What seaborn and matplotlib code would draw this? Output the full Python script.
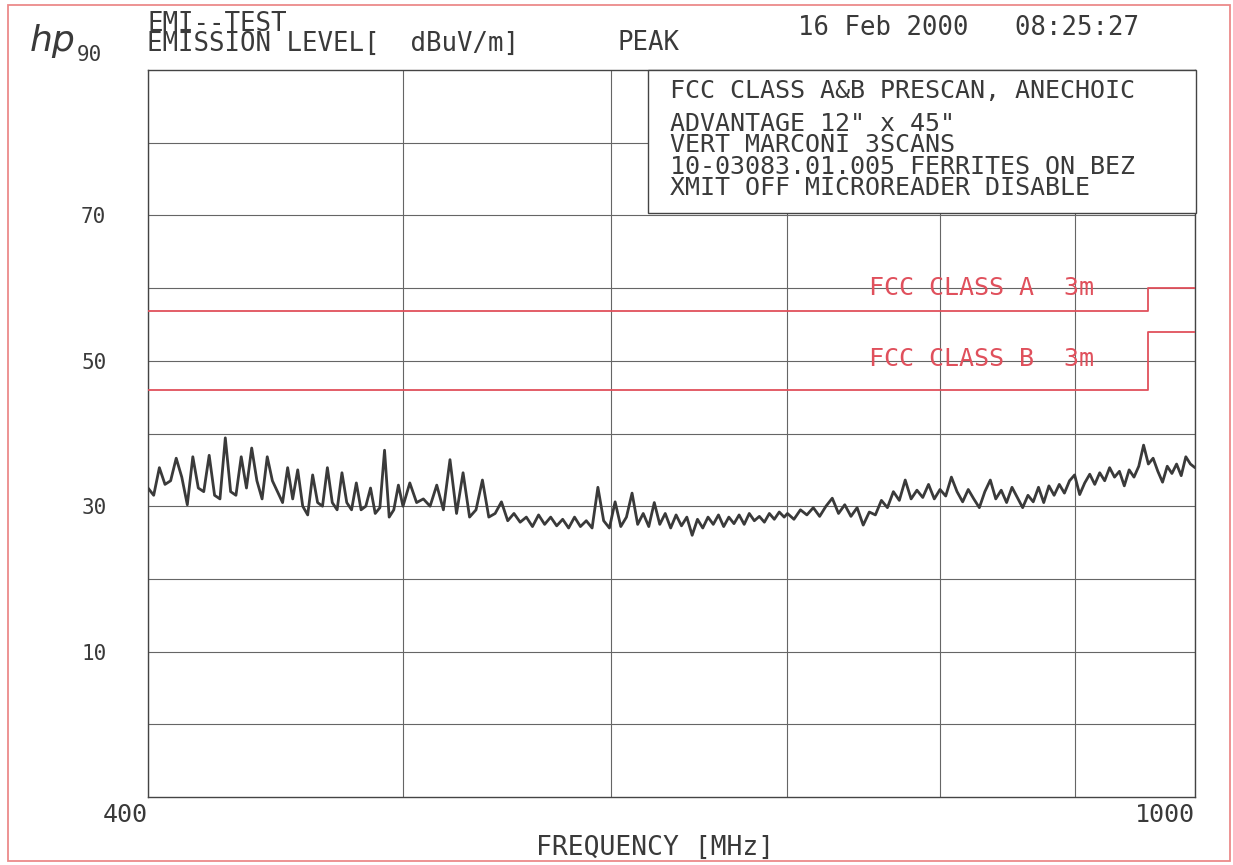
import matplotlib
matplotlib.use("Agg")
import matplotlib.pyplot as plt
import seaborn as sns
import pandas as pd
from matplotlib.patches import Rectangle
from matplotlib.ticker import FixedLocator, NullFormatter

# ---------------- data ----------------
FREQ_SEG1 = list(range(400, 500, 2))
LEVEL_SEG1 = [32.5, 31.5, 35.3, 33.0, 33.5, 36.6, 34.0, 30.2, 36.8, 32.5,
              32.0, 37.0, 31.5, 31.0, 39.4, 32.0, 31.5, 36.8, 32.5, 38.0,
              33.5, 31.0, 36.8, 33.5, 32.0, 30.5, 35.3, 31.0, 35.0, 30.0,
              28.8, 34.3, 30.5, 30.0, 35.3, 30.5, 29.5, 34.6, 30.5, 29.5,
              33.2, 29.5, 30.0, 32.5, 29.0, 29.8, 37.7, 28.5, 29.5, 32.9]
FREQ_SEG2 = list(range(500, 700, 3))
LEVEL_SEG2 = [30.0, 33.2, 30.5, 31.0, 30.0, 32.9, 29.5, 36.4, 29.0, 34.6,
              28.5, 29.5, 33.6, 28.5, 29.0, 30.6, 28.0, 29.0, 27.8, 28.5,
              27.2, 28.8, 27.5, 28.5, 27.3, 28.2, 27.0, 28.5, 27.2, 28.0,
              27.0, 32.6, 28.0, 27.0, 30.6, 27.2, 28.5, 31.8, 27.5, 29.0,
              27.2, 30.5, 27.5, 29.0, 27.0, 28.8, 27.3, 28.5, 26.0, 28.2,
              27.0, 28.5, 27.5, 28.8, 27.2, 28.5, 27.6, 28.8, 27.5, 29.0,
              28.0, 28.6, 27.8, 29.0, 28.2, 29.2, 28.5]
FREQ_SEG3 = list(range(700, 1001, 4))
LEVEL_SEG3 = [29.0, 28.2, 29.5, 28.8, 29.8, 28.6, 30.0, 31.1, 29.0, 30.2,
              28.6, 29.8, 27.4, 29.2, 28.8, 30.8, 29.8, 32.0, 30.8, 33.6,
              31.0, 32.2, 31.2, 33.0, 31.0, 32.3, 31.4, 34.0, 32.0, 30.6,
              32.3, 31.0, 29.8, 32.0, 33.6, 31.0, 32.2, 30.5, 32.6, 31.2,
              29.8, 31.5, 30.6, 32.6, 30.5, 32.8, 31.5, 33.0, 31.8, 33.5,
              34.3, 31.6, 33.2, 34.4, 33.0, 34.6, 33.5, 35.3, 34.0, 34.8,
              32.8, 35.0, 34.0, 35.5, 38.4, 35.8, 36.6, 34.8, 33.3, 35.5,
              34.5, 35.8, 34.2, 36.8, 35.8, 35.3]

LIMIT_FREQ = [400, 960, 1000]
CLASS_A = [56.9, 60.0, 60.0]
CLASS_B = [46.0, 54.0, 54.0]
LIMIT_LABELS = ["FCC CLASS A  3m", "FCC CLASS B  3m"]

X_TICKS = [400, 1000]
X_TICK_LABELS = ["400", "1000"]
X_GRID = [500, 600, 700, 800, 900]
Y_TICKS = [10, 30, 50, 70]
Y_TICK_LABELS = ["10", "30", "50", "70"]
Y_GRID = [0, 20, 40, 60, 80]
Y_TOP_LABEL = "90"

HEADER_LINES = ["EMI--TEST", "EMISSION LEVEL[  dBuV/m]"]
HEADER_MODE = "PEAK"
HEADER_DATE = "16 Feb 2000   08:25:27"
X_LABEL = "FREQUENCY [MHz]"
NOTE_TITLE = "FCC CLASS A&B PRESCAN, ANECHOIC"
NOTE_LINES = ['ADVANTAGE 12" x 45"',
              "VERT MARCONI 3SCANS",
              "10-03083.01.005 FERRITES ON BEZ",
              "XMIT OFF MICROREADER DISABLE"]

# ---------------- style ----------------
sns.set_theme(style="white")
plt.rcParams["font.family"] = ["DejaVu Sans Mono", "DejaVu Sans"]

INK = "#3a3a3a"
GRID = "#666666"
RED = "#e0505c"

W, H = 1233, 865
fig = plt.figure(figsize=(W / 100, H / 100), dpi=100)
fig.patch.set_facecolor("white")


def fx(px):
    return px / W


def fy(py):
    return 1 - py / H


ax = fig.add_axes([fx(148), fy(797), (1195 - 148) / W, (797 - 70) / H])
ax.set_facecolor("white")

trace = pd.DataFrame({"freq": FREQ_SEG1 + FREQ_SEG2 + FREQ_SEG3,
                      "level": LEVEL_SEG1 + LEVEL_SEG2 + LEVEL_SEG3})
sns.lineplot(data=trace, x="freq", y="level", ax=ax, color=INK, lw=2.0,
             estimator=None, sort=False, zorder=3)

limits = pd.DataFrame({"freq": LIMIT_FREQ * 2,
                       "level": CLASS_A + CLASS_B,
                       "limit": ["A"] * 3 + ["B"] * 3})
sns.lineplot(data=limits, x="freq", y="level", hue="limit",
             palette={"A": RED, "B": RED}, estimator=None, sort=False,
             lw=1.3, drawstyle="steps-post", legend=False, ax=ax, zorder=3)

ax.set_xscale("log")
ax.set_xlim(400, 1000)
ax.set_ylim(-10, 90)
ax.xaxis.set_major_locator(FixedLocator(X_TICKS))
ax.set_xticklabels(X_TICK_LABELS)
ax.xaxis.set_minor_locator(FixedLocator(X_GRID))
ax.xaxis.set_minor_formatter(NullFormatter())
ax.set_yticks(Y_TICKS)
ax.set_yticklabels(Y_TICK_LABELS)
ax.yaxis.set_minor_locator(FixedLocator(Y_GRID))
ax.grid(which="both", color=GRID, lw=0.8)
ax.set_axisbelow(True)
ax.tick_params(axis="both", which="both", length=0, labelcolor=INK)
ax.tick_params(axis="y", labelsize=15, pad=30)
ax.tick_params(axis="x", labelsize=18, pad=4)
for lab in ax.get_xticklabels():
    lab.set_ha("right")
ax.set_xlabel("")
ax.set_ylabel("")
for s in ax.spines.values():
    s.set_visible(True)
    s.set_color("#444444")
    s.set_linewidth(1.0)

# annotation box
ax.add_patch(Rectangle(((648 - 148) / 1047, (797 - 213) / 727),
                       (1196 - 648) / 1047, (213 - 70) / 727,
                       transform=ax.transAxes, facecolor="white",
                       edgecolor="#444444", lw=1.0, zorder=4, clip_on=False))
fig.text(fx(670), fy(91), NOTE_TITLE, color=INK, fontsize=18, va="center",
         ha="left", zorder=5)
fig.text(fx(670), fy(156), "\n".join(NOTE_LINES), color=INK, fontsize=18,
         va="center", ha="left", linespacing=0.86, zorder=5)

# limit labels
ax.text(752, CLASS_A[-1], LIMIT_LABELS[0], color=RED, fontsize=18,
        va="center", ha="left", zorder=4)
ax.text(752, CLASS_B[0] + 4.3, LIMIT_LABELS[1], color=RED, fontsize=18,
        va="center", ha="left", zorder=4)

# header
fig.text(fx(30), fy(41), "hp", fontsize=26, style="italic", color=INK,
         va="center", ha="left", family="DejaVu Sans")
fig.text(fx(77), fy(55), Y_TOP_LABEL, fontsize=15, color=INK, va="center")
fig.text(fx(147), fy(34), "\n".join(HEADER_LINES), fontsize=18.5, color=INK,
         va="center", ha="left", linespacing=0.7)
fig.text(fx(617), fy(43), HEADER_MODE, fontsize=18.5, color=INK, va="center")
fig.text(fx(798), fy(28), HEADER_DATE, fontsize=18.5, color=INK,
         va="center")
fig.text(fx(655), fy(848), X_LABEL, fontsize=19, color=INK, va="center",
         ha="center")

# page frame
fig.patches.append(Rectangle((fx(8), fy(861)), (1230 - 8) / W, (861 - 5) / H,
                             transform=fig.transFigure, fill=False,
                             edgecolor="#ec8a8a", lw=1.3))

fig.savefig("out.png", dpi=100, facecolor="white")
